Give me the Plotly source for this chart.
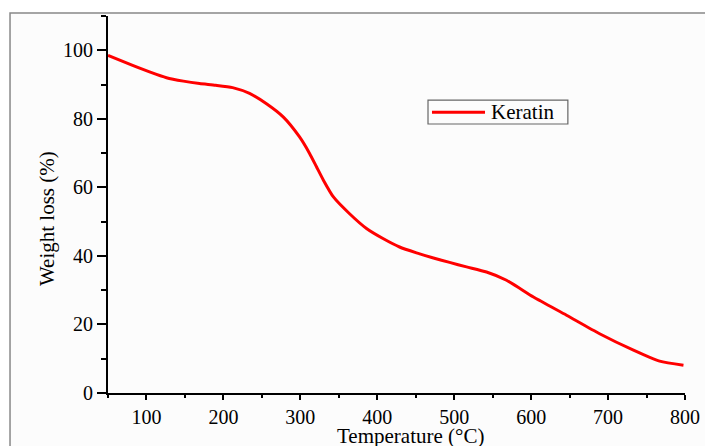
import plotly.graph_objects as go

temperature = [50, 82, 104, 126, 148, 169, 190, 212, 234, 256, 278, 299, 312, 321, 330,
               343, 364, 386, 408, 429, 451, 473, 494, 516, 542, 568, 603, 646, 689, 733,
               767, 798]
weight = [98.5, 95.6, 93.7, 92.0, 91.0, 90.3, 89.8, 89.1, 87.4, 84.4, 80.5, 74.7, 69.9, 66.0, 62.1,
          57.2, 52.3, 48.0, 45.0, 42.6, 40.9, 39.4, 38.1, 36.8, 35.3, 32.9, 28.0, 22.7, 17.3, 12.5,
          9.3, 8.1]

x_major = [100, 200, 300, 400, 500, 600, 700, 800]
y_major = [0, 20, 40, 60, 80, 100]
series_name = "Keratin"
x_title = "Temperature (°C)"
y_title = "Weight loss (%)"

FONT = "Liberation Serif"
RED = "#ff0000"

fig = go.Figure()
fig.add_trace(go.Scatter(
    x=temperature, y=weight, mode="lines", name=series_name, showlegend=False,
    line=dict(color=RED, width=3, shape="spline", smoothing=0.6),
))

fig.update_layout(
    template="none",
    width=705, height=446,
    margin=dict(l=108, r=20, t=16, b=53, autoexpand=False),
    paper_bgcolor="white", plot_bgcolor="rgba(0,0,0,0)",
    font=dict(family=FONT, size=20, color="black"),
    showlegend=False,
    xaxis=dict(
        range=[50, 800], tickvals=x_major, ticks="outside", ticklen=5, tickwidth=1.5,
        tickcolor="black", showline=True, linecolor="black", linewidth=2,
        showgrid=False, zeroline=False, automargin=False,
        tickfont=dict(family=FONT, size=20),
        minor=dict(ticks="outside", ticklen=3, tickwidth=1.5, tickcolor="black", dtick=50, tick0=0),
    ),
    yaxis=dict(
        range=[0, 110], tickvals=y_major, ticks="outside", ticklen=9, tickwidth=1.5,
        tickcolor="black", showline=True, linecolor="black", linewidth=2,
        showgrid=False, zeroline=False, automargin=False,
        tickfont=dict(family=FONT, size=20),
        minor=dict(ticks="outside", ticklen=5, tickwidth=1.5, tickcolor="black", dtick=10, tick0=0),
    ),
)

# outer gray frame of the original figure panel
fig.add_shape(type="rect", xref="paper", yref="paper",
              x0=-0.1698, x1=1.06, y0=-0.2, y1=1.008,
              fillcolor="#fcfcfc",
              line=dict(color="#888888", width=1.5), layer="below")

# axis titles
fig.add_annotation(text=x_title, xref="paper", yref="paper", x=0.524, y=-0.114,
                   xanchor="center", yanchor="middle", showarrow=False,
                   font=dict(family=FONT, size=21, color="black"))
fig.add_annotation(text=y_title, xref="paper", yref="paper", x=-0.1057, y=0.4615,
                   xanchor="center", yanchor="middle", textangle=-90, showarrow=False,
                   font=dict(family=FONT, size=21, color="black"))

# legend box
fig.add_shape(type="rect", xref="paper", yref="paper",
              x0=0.5546, x1=0.797, y0=0.7135, y1=0.777,
              line=dict(color="#666666", width=1.2), fillcolor="rgba(0,0,0,0)")
fig.add_shape(type="line", xref="paper", yref="paper",
              x0=0.5615, x1=0.6534, y0=0.745, y1=0.745,
              line=dict(color=RED, width=3))
fig.add_annotation(text=series_name, xref="paper", yref="paper", x=0.660, y=0.745,
                   xanchor="left", yanchor="middle", showarrow=False,
                   font=dict(family=FONT, size=21, color="black"))

fig.write_html("out.html", config={"displayModeBar": False},
               post_script="document.body.style.margin='0';document.body.style.overflow='hidden';")
